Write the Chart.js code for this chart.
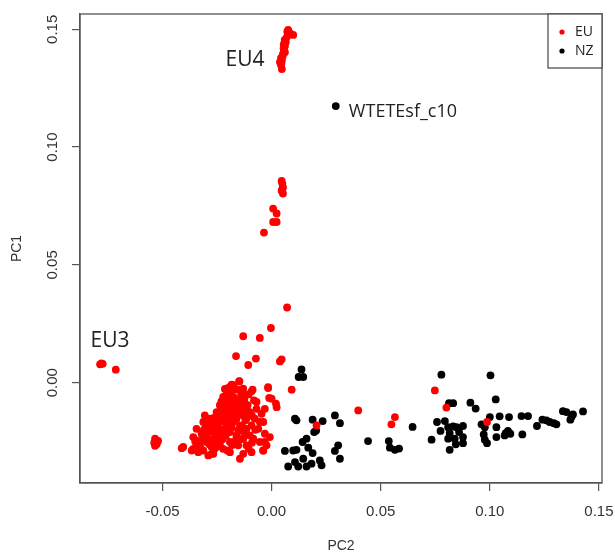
<!DOCTYPE html>
<html>
<head>
<meta charset="utf-8">
<script src="https://cdn.jsdelivr.net/npm/chart.js@4/dist/chart.umd.min.js"></script>
<style>
  html, body { margin: 0; padding: 0; background: #fff; }
  #pca { display: block; }
</style>
</head>
<body>
<canvas id="pca" width="615" height="556"></canvas>
<script>
// PCA scores: PC2 on x, PC1 on y
const euPC2 = [
  // EU4 group
  0.0076, 0.0099, 0.0084, 0.0070, 0.0065, 0.0061, 0.0056, 0.0052, 0.0043, 0.0038, 0.0047, 0.0043, 0.0047, 0.0056, 0.0061, 0.0050, 0.0055, 0.0045, 0.0060, 0.0072,
  // column between
  0.0046, 0.0049, 0.0052, 0.0046, 0.0052, 0.0049, 0.0007, 0.0023, 0.0007, 0.0023, -0.0035,
  // scattered above main group
  0.0071, -0.0003, -0.0130, -0.0054, -0.0163, -0.0072, -0.0107, 0.0038, 0.0046, -0.0148,
  // EU3 and left cluster
  -0.0786, -0.0780, -0.0774, -0.0714,
  -0.0534, -0.0520, -0.0538, -0.0527, -0.0534, -0.0525,
  // main group
  -0.0214, -0.0183, -0.0168, -0.0087, -0.0016, 0.0092,
  -0.0148, -0.0016, -0.0011, 0.0023, -0.0031, -0.0081, -0.0092, -0.0206, -0.0176, -0.0130,
  -0.0222, -0.0191, -0.0153, -0.0122, -0.0115, -0.0145, -0.0176, -0.0206, -0.0237, -0.0252,
  -0.0222, -0.0191, -0.0161, -0.0130, -0.0100, -0.0069, -0.0046, -0.0054, -0.0077, -0.0092,
  -0.0061, -0.0031, -0.0008, -0.0023, -0.0054, -0.0039, -0.0405, -0.0359, -0.0313, -0.0267,
  -0.0275, -0.0328, -0.0359, -0.0344, -0.0313, -0.0306, -0.0283, -0.0267, -0.0237, -0.0206,
  -0.0176, -0.0145, -0.0115, -0.0100, -0.0130, -0.0161, -0.0191, -0.0222, -0.0252, -0.0290,
  -0.0321, -0.0344, -0.0298, -0.0237, -0.0191, -0.0153, -0.0130, -0.0191, -0.0222, -0.0115,
  -0.0084, -0.0267, -0.0328, -0.0206, -0.0161, -0.0115, -0.0138, -0.0168, -0.0199, -0.0245,
  -0.0214, -0.0183, -0.0153, -0.0122, -0.0298, -0.0275, -0.0252, -0.0336, -0.0290,
  -0.0412, -0.0366, -0.0145, -0.0203, -0.0275, -0.0092, -0.0038, -0.0031, 0.0000, -0.0069,
  -0.0038, 0.0020,
  // dense core of the main group
  -0.0330, -0.0315, -0.0300, -0.0285, -0.0270, -0.0255, -0.0240, -0.0225, -0.0210, -0.0195,
  -0.0180, -0.0165, -0.0150, -0.0135, -0.0160, -0.0175, -0.0190, -0.0155, -0.0140, -0.0125,
  -0.0110, -0.0120, -0.0135, -0.0150, -0.0165, -0.0180, -0.0260, -0.0245, -0.0310, -0.0295,
  -0.0280, -0.0265, -0.0250, -0.0235, -0.0215, -0.0200, -0.0185, -0.0170, -0.0230, -0.0210,
  -0.0195, -0.0130, -0.0105, -0.0090, -0.0075, -0.0090, -0.0105, -0.0345, -0.0350, -0.0325,
  -0.0140, -0.0120, -0.0205, -0.0220, -0.0245, -0.0285,
  // EU samples among the NZ group
  0.0206, 0.0397, 0.0565, 0.0549, 0.0748, 0.0801, 0.0987
];
const euPC1 = [
  0.1497, 0.1476, 0.1484, 0.1467, 0.1446, 0.1429, 0.1412, 0.1395, 0.1378, 0.1361, 0.1369, 0.1348, 0.1331, 0.1437, 0.1403, 0.1386, 0.1420, 0.1356, 0.1455, 0.1490,
  0.0856, 0.0845, 0.0830, 0.0815, 0.0803, 0.0820, 0.0739, 0.0718, 0.0682, 0.0682, 0.0637,
  0.0319, 0.0232, 0.0197, 0.0190, 0.0113, 0.0102, 0.0075, 0.0090, 0.0099, 0.0006,
  0.0078, 0.0082, 0.0080, 0.0055,
  -0.0238, -0.0247, -0.0255, -0.0262, -0.0268, -0.0255,
  -0.0027, -0.0008, -0.0027, -0.0030, -0.0019, -0.0030,
  0.0005, -0.0023, -0.0065, -0.0104, -0.0111, -0.0075, -0.0037, -0.0026, -0.0011, -0.0047,
  -0.0061, -0.0068, -0.0075, -0.0089, -0.0111, -0.0104, -0.0096, -0.0104, -0.0096, -0.0125,
  -0.0132, -0.0139, -0.0132, -0.0139, -0.0125, -0.0111, -0.0132, -0.0167, -0.0153, -0.0181,
  -0.0196, -0.0217, -0.0231, -0.0266, -0.0252, -0.0288, -0.0273, -0.0281, -0.0288, -0.0302,
  -0.0273, -0.0252, -0.0231, -0.0196, -0.0167, -0.0139, -0.0153, -0.0181, -0.0167, -0.0181,
  -0.0167, -0.0181, -0.0196, -0.0224, -0.0238, -0.0224, -0.0210, -0.0217, -0.0231, -0.0210,
  -0.0217, -0.0245, -0.0252, -0.0259, -0.0252, -0.0266, -0.0302, -0.0295, -0.0281, -0.0266,
  -0.0238, -0.0210, -0.0273, -0.0153, -0.0153, -0.0153, -0.0118, -0.0118, -0.0125, -0.0196,
  -0.0196, -0.0189, -0.0203, -0.0217, -0.0231, -0.0245, -0.0252, -0.0295, -0.0309,
  -0.0278, -0.0288, -0.0323, -0.0288, -0.0302, -0.0295, -0.0288, -0.0252, -0.0068, -0.0082,
  -0.0167, -0.0089,
  -0.0262, -0.0240, -0.0225, -0.0262, -0.0240, -0.0215, -0.0195, -0.0240, -0.0225, -0.0200,
  -0.0150, -0.0140, -0.0110, -0.0090, -0.0085, -0.0060, -0.0040, -0.0030, -0.0055, -0.0070,
  -0.0095, -0.0160, -0.0185, -0.0205, -0.0245, -0.0265, -0.0280, -0.0270, -0.0200, -0.0185,
  -0.0170, -0.0150, -0.0140, -0.0120, -0.0110, -0.0085, -0.0100, -0.0115, -0.0080, -0.0055,
  -0.0020, -0.0025, -0.0050, -0.0140, -0.0200, -0.0255, -0.0280, -0.0270, -0.0250, -0.0285,
  -0.0240, -0.0210, -0.0175, -0.0150, -0.0165, -0.0205,
  -0.0181, -0.0118, -0.0146, -0.0177, -0.0033, -0.0106, -0.0167
];

const nzPC2 = [
  0.0294,
  0.0137, 0.0124, 0.0145,
  0.0107, 0.0114, 0.0188, 0.0234, 0.0290, 0.0313, 0.0195, 0.0204, 0.0160, 0.0142, 0.0305,
  0.0290, 0.0313, 0.0061, 0.0099, 0.0114, 0.0168, 0.0188, 0.0221, 0.0076, 0.0107, 0.0122,
  0.0145, 0.0160, 0.0183, 0.0229, 0.0442, 0.0537, 0.0542, 0.0565, 0.0584, 0.0646,
  0.0778, 0.0813, 0.0832, 0.0911, 0.0935, 0.1003, 0.1027,
  0.0758, 0.0774, 0.0794, 0.0809, 0.0832, 0.0816, 0.0847, 0.0877, 0.0859, 0.0877,
  0.0839, 0.0809, 0.0733, 0.0844, 0.0877, 0.0816,
  0.0962, 0.0977, 0.1000, 0.0972, 0.0977, 0.0987, 0.1030, 0.1030, 0.1045, 0.1088,
  0.1073, 0.1083, 0.1094, 0.1068, 0.1145, 0.1175, 0.1149, 0.1216, 0.1241, 0.1259,
  0.1274, 0.1293, 0.1305, 0.1335, 0.1351, 0.1369, 0.1381, 0.1374, 0.1427
];
const nzPC1 = [
  0.1174,
  0.0056, 0.0024, 0.0024,
  -0.0153, -0.0160, -0.0157, -0.0163, -0.0139, -0.0172, -0.0210, -0.0203, -0.0238, -0.0252, -0.0266,
  -0.0290, -0.0323, -0.0290, -0.0288, -0.0285, -0.0276, -0.0299, -0.0330, -0.0356, -0.0337, -0.0356,
  -0.0323, -0.0356, -0.0344, -0.0351, -0.0248, -0.0248, -0.0276, -0.0285, -0.0280, -0.0188,
  0.0034, -0.0087, -0.0087, -0.0085, -0.0110, 0.0031, -0.0071,
  -0.0167, -0.0205, -0.0163, -0.0189, -0.0186, -0.0214, -0.0189, -0.0184, -0.0210, -0.0231,
  -0.0238, -0.0238, -0.0242, -0.0262, -0.0257, -0.0285,
  -0.0177, -0.0189, -0.0146, -0.0220, -0.0242, -0.0257, -0.0189, -0.0231, -0.0143, -0.0146,
  -0.0214, -0.0205, -0.0217, -0.0224, -0.0142, -0.0142, -0.0220, -0.0184, -0.0157, -0.0160,
  -0.0167, -0.0172, -0.0177, -0.0121, -0.0125, -0.0157, -0.0135, -0.0146, -0.0122
];

const xTicks = [-0.05, 0, 0.05, 0.10, 0.15];
const yTicks = [0, 0.05, 0.10, 0.15];

// text annotations placed in data units
const noteText = ['EU4', 'EU3', 'WTETEsf_c10'];
const noteX = [-0.0122, -0.0740, 0.0354];
const noteY = [0.1369, 0.0176, 0.1148];
const noteAlign = ['center', 'center', 'left'];
const noteSize = [21, 21, 18];

const toPoints = (xs, ys) => xs.map((x, i) => ({ x, y: ys[i] }));

const axisColor = '#555';
const labelFont = { family: '"Liberation Sans", Arial, sans-serif', size: 15 };
const titleFont = { family: '"Liberation Sans", Arial, sans-serif', size: 14 };

const frameBox = {
  id: 'frameBox',
  afterDatasetsDraw(chart) {
    const { ctx, chartArea: a } = chart;
    ctx.save();
    ctx.strokeStyle = axisColor;
    ctx.lineWidth = 1.3;
    ctx.strokeRect(a.left, a.top, a.right - a.left, a.bottom - a.top);
    ctx.restore();
  }
};

const notes = {
  id: 'notes',
  afterDatasetsDraw(chart) {
    const { ctx, scales } = chart;
    ctx.save();
    ctx.fillStyle = '#222';
    ctx.textBaseline = 'middle';
    noteText.forEach((t, i) => {
      ctx.font = noteSize[i] + 'px "Open Sans", "Noto Sans", sans-serif';
      ctx.textAlign = noteAlign[i];
      ctx.fillText(t, scales.x.getPixelForValue(noteX[i]), scales.y.getPixelForValue(noteY[i]));
    });
    ctx.restore();
  }
};

// small boxed legend in the top-right corner, like R's legend()
const cornerLegend = {
  id: 'cornerLegend',
  afterDraw(chart) {
    const { ctx, chartArea: a } = chart;
    const w = 54, h = 54;
    ctx.save();
    ctx.fillStyle = '#fff';
    ctx.fillRect(a.right - w, a.top, w, h);
    ctx.strokeStyle = '#444';
    ctx.lineWidth = 1.2;
    ctx.strokeRect(a.right - w, a.top, w, h);
    ctx.font = '14px "Open Sans", "Noto Sans", sans-serif';
    ctx.textBaseline = 'middle';
    ctx.textAlign = 'left';
    chart.data.datasets.forEach((ds, i) => {
      const y = a.top + 18 + i * 19;
      ctx.fillStyle = ds.backgroundColor;
      ctx.beginPath();
      ctx.arc(a.right - w + 14, y, 2.6, 0, Math.PI * 2);
      ctx.fill();
      ctx.fillStyle = '#222';
      ctx.fillText(ds.label, a.right - w + 27, y);
    });
    ctx.restore();
  }
};

new Chart(document.getElementById('pca'), {
  type: 'scatter',
  data: {
    datasets: [
      { label: 'EU', data: toPoints(euPC2, euPC1), backgroundColor: '#ff0000', borderWidth: 0, pointRadius: 3.9 },
      { label: 'NZ', data: toPoints(nzPC2, nzPC1), backgroundColor: '#000000', borderWidth: 0, pointRadius: 3.9 }
    ]
  },
  options: {
    responsive: false,
    animation: false,
    layout: { padding: { top: 14, right: 13, left: 0, bottom: 0 } },
    plugins: { legend: { display: false }, tooltip: { enabled: false } },
    scales: {
      x: {
        type: 'linear',
        min: -0.0878,
        max: 0.1514,
        afterBuildTicks: s => { s.ticks = xTicks.map(v => ({ value: v })); },
        afterFit: s => { s.height = 73; s.paddingLeft = 0; s.paddingRight = 0; },
        ticks: {
          color: '#333',
          font: labelFont,
          padding: 12,
          maxRotation: 0,
          callback: v => v.toFixed(2)
        },
        grid: { drawOnChartArea: false, drawTicks: true, tickLength: 8, color: axisColor, lineWidth: 1.2 },
        border: { display: true, color: axisColor, width: 1.3 },
        title: { display: true, text: 'PC2', color: '#333', font: titleFont, padding: { top: 0, bottom: 1 } }
      },
      y: {
        type: 'linear',
        min: -0.0426,
        max: 0.1565,
        afterBuildTicks: s => { s.ticks = yTicks.map(v => ({ value: v })); },
        afterFit: s => { s.width = 80; s.paddingTop = 0; s.paddingBottom = 0; },
        ticks: {
          color: '#333',
          font: labelFont,
          padding: 5,
          minRotation: 90,
          maxRotation: 90,
          crossAlign: 'center',
          callback: v => v.toFixed(2)
        },
        grid: { drawOnChartArea: false, drawTicks: true, tickLength: 8, color: axisColor, lineWidth: 1.2 },
        border: { display: true, color: axisColor, width: 1.3 },
        title: { display: true, text: 'PC1', color: '#333', font: titleFont, padding: { top: 9, bottom: 0 } }
      }
    }
  },
  plugins: [frameBox, notes, cornerLegend]
});
</script>
</body>
</html>
